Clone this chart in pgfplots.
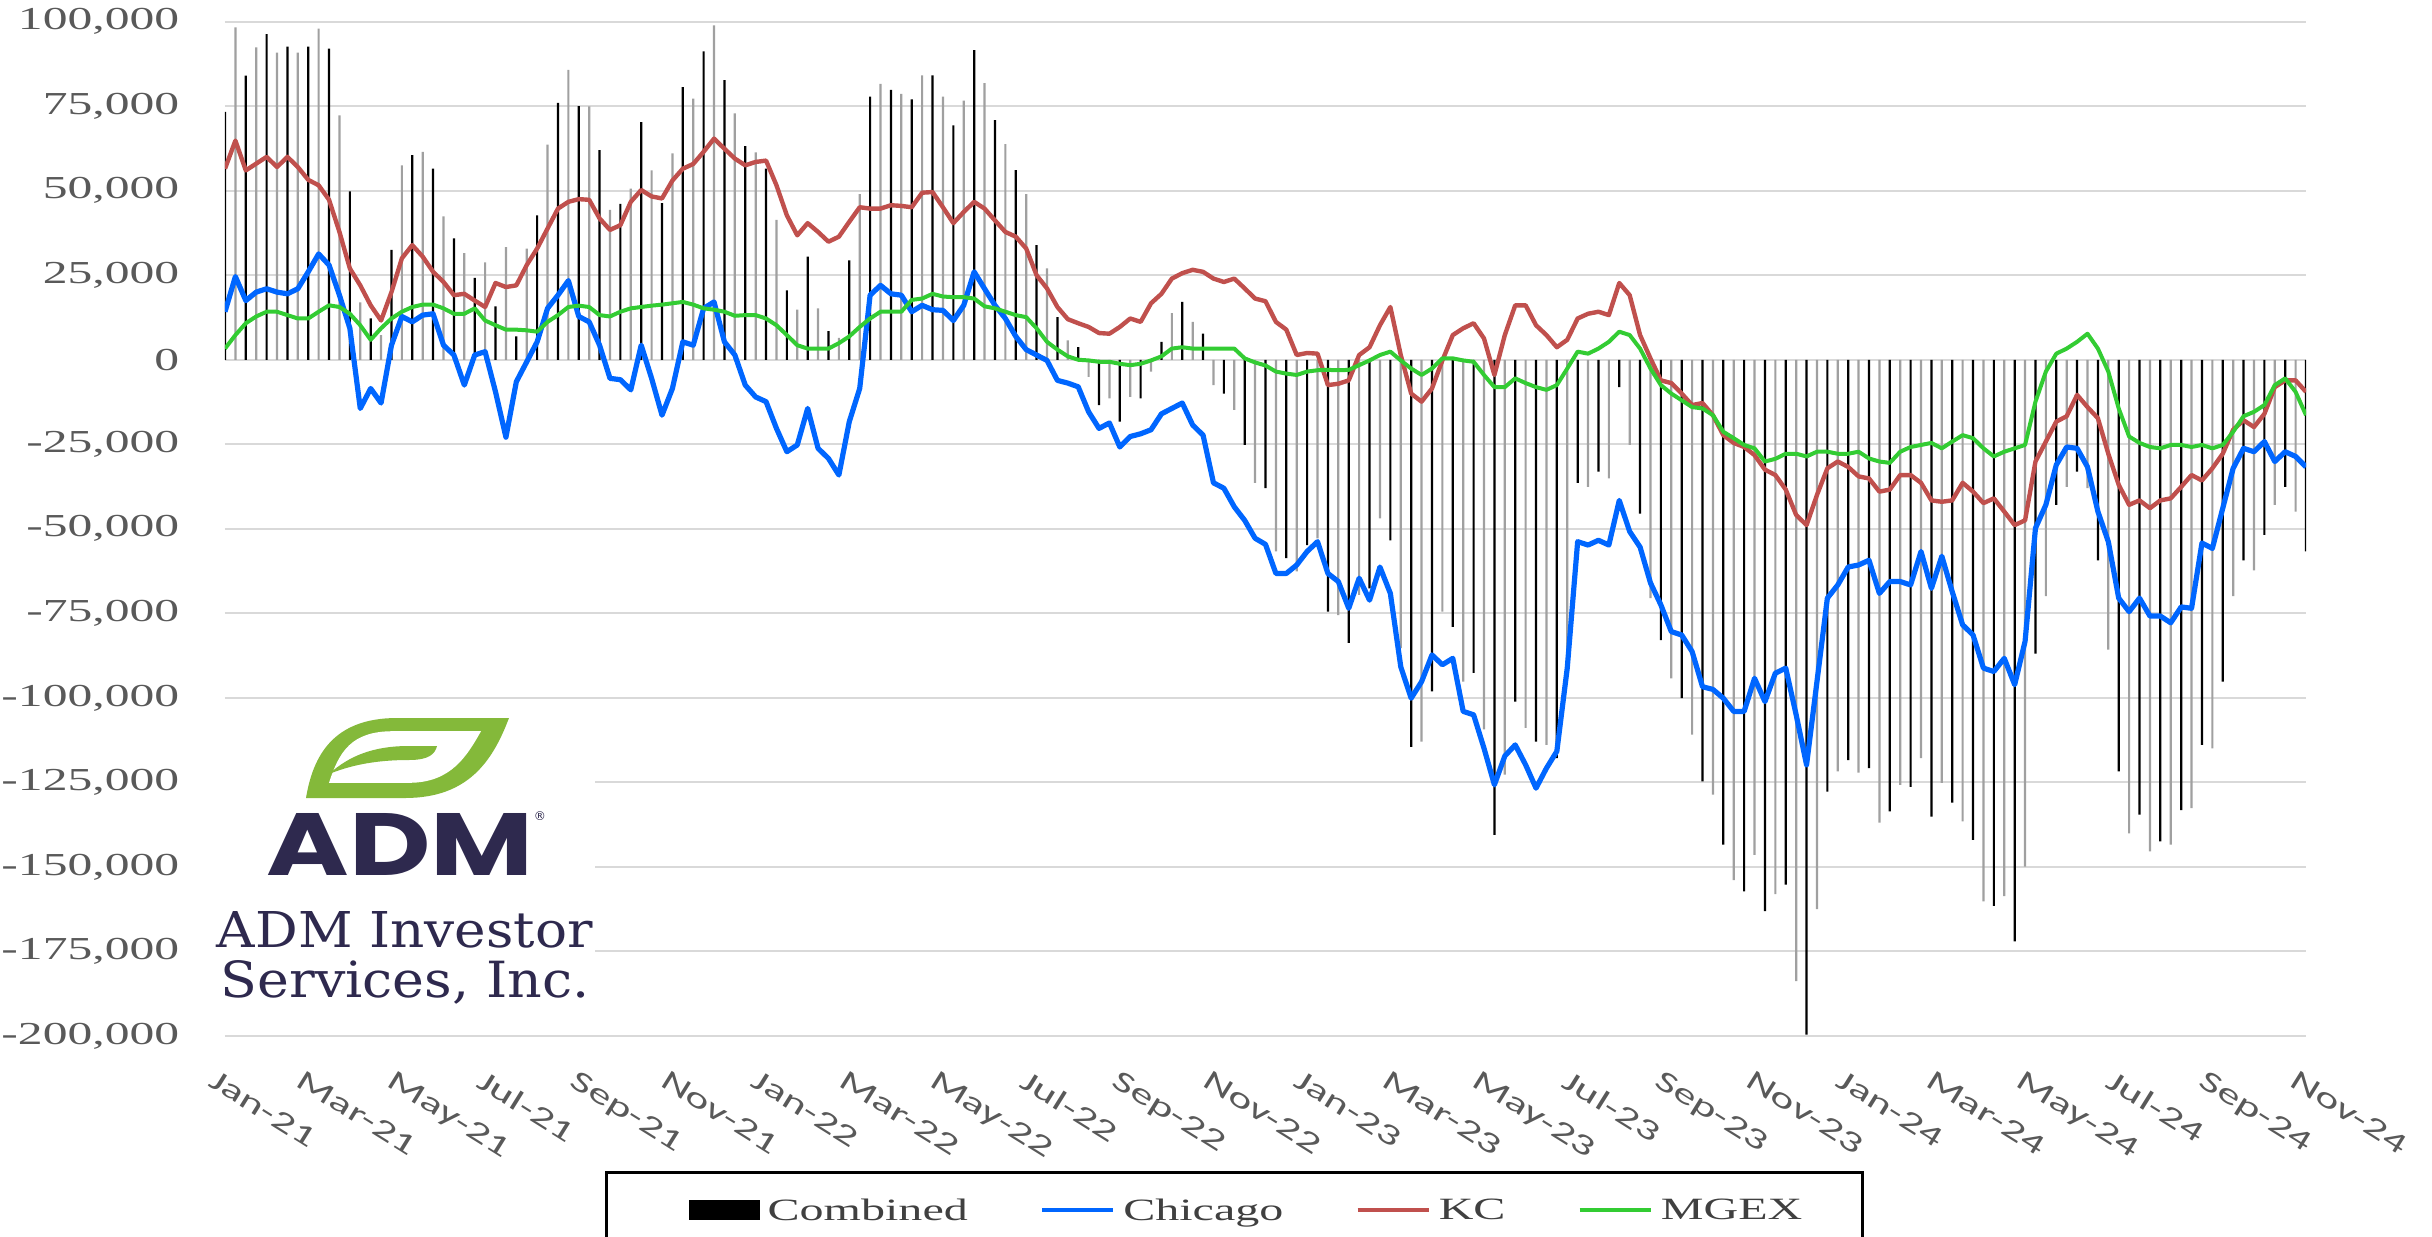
\documentclass[border=0pt]{standalone}
\usepackage{fontspec}
\setmainfont{Liberation Serif}[FakeStretch=1.55]
\newfontfamily\xfont{Carlito}[FakeStretch=1.55]
\newfontfamily\admsans{Poppins}
\newfontfamily\admserif{DejaVu Serif}
\newfontfamily\symfont{DejaVu Sans}
\usepackage{graphicx}
\usepackage{pgfplots}
\pgfplotsset{compat=1.18}
\usepackage{pgfplotstable}
\definecolor{chi}{RGB}{0,102,255}
\definecolor{kcc}{RGB}{192,80,77}
\definecolor{mgx}{RGB}{51,204,51}
\definecolor{gridc}{RGB}{217,217,217}
\definecolor{tickc}{RGB}{89,89,89}
\definecolor{legc}{RGB}{64,64,64}
\definecolor{bargray}{RGB}{160,160,160}
\definecolor{admgreen}{RGB}{132,185,58}
\definecolor{admnavy}{RGB}{46,41,78}
\pgfplotstableread{
w c h k g
0 73300 14200 56500 3300
1 98300 24600 64800 7300
2 84000 17500 56000 10800
3 92400 20000 58000 12800
4 96300 21000 60000 14200
5 90800 20000 57000 14200
6 92600 19500 60000 13200
7 90800 21000 57000 12200
8 92600 26000 53200 12200
9 97900 31300 51600 14200
10 92000 28000 47300 16100
11 72300 19100 37800 15600
12 49800 9300 27000 13600
13 17000 -14400 22000 10200
14 12200 -8500 16100 5900
15 7300 -12800 11600 9300
16 32500 4300 20000 12200
17 57500 12800 30000 14200
18 60500 11200 33900 15600
19 61500 13200 30500 16300
20 56500 13600 26000 16300
21 42400 4300 23000 15200
22 35900 1400 19100 13600
23 31500 -7500 19500 13600
24 24200 1400 17500 15200
25 28800 2400 15600 11600
26 15800 -9500 22700 10200
27 33300 -22900 21500 8900
28 6900 -6500 22000 8900
29 32900 -600 28000 8700
30 42700 5300 32900 8300
31 63600 15200 38800 11200
32 76000 19100 44700 13200
33 85700 23400 46700 15600
34 75000 12800 47500 16000
35 74900 11200 47300 15600
36 62000 4300 41800 13200
37 44300 -5500 38400 12800
38 46100 -5900 39800 14200
39 50600 -8900 46700 15200
40 70300 4300 50200 15600
41 56000 -5500 48300 16000
42 46300 -16400 47700 16300
43 61000 -8500 53000 16700
44 80600 5300 56500 17100
45 77200 4300 57900 16300
46 91200 15200 61500 15200
47 98900 17100 65400 14800
48 82700 5300 62400 14200
49 72900 1400 59500 13000
50 63200 -7500 57500 13200
51 61300 -11000 58500 13200
52 56500 -12400 58900 12200
53 41400 -20300 51600 10200
54 20500 -27200 42700 7300
55 14800 -25200 36800 4300
56 30500 -14400 40400 3300
57 15200 -26200 37800 3300
58 8500 -29200 34900 3300
59 6500 -34100 36400 4900
60 29400 -18300 40800 6900
61 49000 -8500 45100 9700
62 77800 19100 44700 12200
63 81600 22000 44700 14200
64 79800 19500 45700 14200
65 78600 19100 45500 14200
66 77000 14200 45100 17700
67 84100 16100 49400 18100
68 84100 14800 49600 19500
69 77800 14600 45100 18700
70 69300 11600 40400 18500
71 76600 16100 43700 18500
72 91600 26000 46700 18100
73 81800 21000 44700 15800
74 70900 16100 41200 15200
75 63800 12200 37800 14200
76 56100 6900 36400 13200
77 49000 3000 32900 12600
78 33900 1400 25000 9300
79 27000 -200 21100 5300
80 12600 -6100 15600 3000
81 5700 -6900 12000 1000
82 3700 -8000 10800 0
83 -5100 -15400 9700 -200
84 -13400 -20300 7900 -600
85 -11400 -18700 7700 -600
86 -18300 -25800 9700 -1200
87 -11000 -22700 12200 -1600
88 -11400 -21900 11200 -1200
89 -3500 -20700 16700 -200
90 5300 -16000 19500 1000
91 13800 -14400 24000 3300
92 17100 -12800 25600 3700
93 11200 -19300 26600 3300
94 7700 -22300 26000 3300
95 -7500 -36400 24000 3300
96 -10000 -38000 23000 3300
97 -14800 -43500 24000 3300
98 -25200 -47500 21100 400
99 -36400 -52800 18100 -800
100 -38000 -54600 17300 -1700
101 -56700 -63200 11200 -3500
102 -58700 -63200 8900 -4100
103 -62600 -60700 1400 -4500
104 -54800 -56700 2000 -3500
105 -52800 -53800 1800 -3100
106 -74500 -63200 -7500 -3000
107 -75500 -65600 -7100 -3100
108 -83700 -73500 -6100 -3000
109 -69500 -64600 1400 -1600
110 -67600 -71100 3700 -200
111 -46900 -61300 10200 1400
112 -53400 -69100 15600 2400
113 -85300 -90800 1400 -200
114 -114500 -100100 -10000 -2600
115 -112900 -95200 -12400 -4500
116 -98100 -87300 -8500 -2600
117 -74500 -90200 -200 400
118 -79000 -88300 7300 400
119 -95200 -104000 9300 -200
120 -92600 -105000 10800 -600
121 -109300 -114900 6300 -4500
122 -140500 -125700 -4500 -8100
123 -122700 -117200 7300 -8100
124 -101100 -113900 16100 -5500
125 -108900 -119800 16100 -6900
126 -112900 -126700 10200 -8100
127 -113900 -120800 7300 -8900
128 -117800 -115800 3700 -7500
129 -93200 -91200 5900 -2600
130 -36400 -53800 12200 2400
131 -37600 -54800 13600 1800
132 -33100 -53400 14200 3300
133 -35100 -54800 13200 5300
134 -8100 -41600 22700 8300
135 -25200 -50800 19100 7300
136 -45500 -55400 7300 3300
137 -70500 -66000 400 -2600
138 -82900 -72500 -6100 -7500
139 -94200 -80400 -6900 -10000
140 -100100 -81400 -10000 -12000
141 -110900 -86300 -13400 -14000
142 -124700 -96700 -12800 -14400
143 -128600 -97500 -16400 -16400
144 -143400 -100100 -22300 -21300
145 -153900 -104000 -24600 -23200
146 -157200 -104000 -25800 -25200
147 -146400 -94200 -28200 -26200
148 -163100 -101100 -32500 -30100
149 -158000 -92700 -34100 -29300
150 -155200 -91200 -38400 -27800
151 -183800 -105000 -45900 -27800
152 -199600 -119800 -48900 -28600
153 -162500 -95200 -40000 -27200
154 -127700 -70500 -32100 -27200
155 -121700 -66600 -30100 -27800
156 -118400 -61300 -31700 -27800
157 -122100 -60700 -34500 -27200
158 -120800 -59300 -35100 -29200
159 -136900 -69100 -39000 -30100
160 -133600 -65600 -38400 -30500
161 -125700 -65600 -34100 -27200
162 -126300 -66600 -34100 -25800
163 -117800 -56700 -36400 -25200
164 -135100 -67600 -41600 -24600
165 -125100 -58100 -42000 -26200
166 -131000 -68600 -41600 -24200
167 -136500 -78400 -36400 -22300
168 -142000 -81400 -39000 -23200
169 -160200 -91200 -42400 -26200
170 -161500 -92200 -41000 -28600
171 -158600 -88300 -44900 -27200
172 -172000 -96100 -48900 -26200
173 -149900 -83300 -47500 -25200
174 -86900 -49800 -30100 -12400
175 -69900 -42900 -24200 -3500
176 -42900 -31100 -18300 1800
177 -37600 -25800 -16700 3300
178 -33100 -26200 -10400 5300
179 -38000 -31700 -14000 7700
180 -59300 -44900 -17300 3300
181 -85700 -53800 -27800 -3500
182 -121700 -70500 -37000 -14400
183 -140100 -74500 -42900 -22700
184 -134500 -70500 -41600 -24600
185 -145400 -75800 -43900 -25800
186 -142400 -75800 -41600 -26200
187 -143400 -77800 -41000 -25200
188 -133200 -73100 -37600 -25200
189 -132600 -73500 -34100 -25800
190 -113900 -54200 -35700 -25200
191 -114900 -55800 -32100 -26200
192 -95200 -43900 -27800 -25200
193 -69900 -32100 -20700 -21300
194 -59300 -26200 -17900 -16700
195 -62300 -27200 -19900 -15400
196 -51800 -24200 -16000 -13400
197 -42900 -30100 -8100 -7500
198 -37600 -27200 -6100 -5500
199 -44900 -28600 -6100 -9500
200 -56700 -31700 -9500 -16400
}\data
\begin{document}
\begin{tikzpicture}
\path[use as bounding box] (-56.25pt,-50pt) rectangle (551.75pt,259pt);
\begin{axis}[
  name=ax, at={(0pt,0pt)}, anchor=south west,
  scale only axis, width=520.25pt, height=253.6pt,
  xmin=0, xmax=200, ymin=-200000, ymax=100000,
  axis line style={draw=none}, tick style={draw=none},
  ymajorgrids, grid style={draw=gridc, line width=0.5pt},
  ytick={-200000,-175000,...,100000},
  scaled y ticks=false,
  /pgf/number format/assume math mode=true,
  /pgf/number format/fixed,
  /pgf/number format/1000 sep={,},
  yticklabel style={font=\fontsize{8pt}{9pt}\selectfont, text=tickc, inner sep=0pt, anchor=east, xshift=-11.25pt},
  xtick={0,8.4286,17.1429,25.8571,34.7143,43.4286,52.1429,60.5714,69.2857,78,86.8571,95.5714,104.2857,112.7143,121.4286,130.1429,139,147.7143,156.4286,165,173.7143,182.4286,191.2857,200},
  xticklabels={Jan-21,Mar-21,May-21,Jul-21,Sep-21,Nov-21,Jan-22,Mar-22,May-22,Jul-22,Sep-22,Nov-22,Jan-23,Mar-23,May-23,Jul-23,Sep-23,Nov-23,Jan-24,Mar-24,May-24,Jul-24,Sep-24,Nov-24},
  xticklabel style={font=\xfont\fontsize{7.3pt}{8pt}\selectfont, text=tickc, inner sep=0pt, xshift=-2pt, yshift=-8pt, rotate=-32, anchor=north west},
  legend columns=4,
  legend cell align=left,
  legend style={at={(0.485,0)}, anchor=north, yshift=-33.75pt, draw=black, line width=0.75pt,
    font=\fontsize{7.75pt}{9pt}\selectfont, text=legc, inner xsep=13pt, inner ysep=4.5pt,
    /tikz/every even column/.append style={column sep=16pt}},
]
\addplot[ybar, bar width=0.55pt, bar shift=0pt, draw=none, fill=black, forget plot,
  x filter/.code={\ifodd\coordindex\def\pgfmathresult{}\fi}] table[x=w, y=c] {\data};
\addplot[ybar, bar width=0.55pt, bar shift=0pt, draw=none, fill=bargray, forget plot,
  x filter/.code={\ifodd\coordindex\else\def\pgfmathresult{}\fi}] table[x=w, y=c] {\data};
\addplot[chi, line width=1.3pt, line join=round, forget plot] table[x=w, y=h] {\data};
\addplot[kcc, line width=1.1pt, line join=round, forget plot] table[x=w, y=k] {\data};
\addplot[mgx, line width=1.0pt, line join=round, forget plot] table[x=w, y=g] {\data};
\addlegendimage{legend image code/.code={\path[draw=none, fill=none] (-8pt,-1.6pt) rectangle (0pt,2.6pt); \fill[black] (0pt,-1.6pt) rectangle (17pt,2.6pt);}}
\addlegendentry{Combined}
\addlegendimage{legend image code/.code={\draw[chi, line width=1.1pt] (0pt,0.5pt) -- (17.75pt,0.5pt);}}
\addlegendentry{Chicago}
\addlegendimage{legend image code/.code={\draw[kcc, line width=1.1pt] (0pt,0.5pt) -- (17.75pt,0.5pt);}}
\addlegendentry{KC}
\addlegendimage{legend image code/.code={\draw[mgx, line width=1.1pt] (0pt,0.5pt) -- (17.75pt,0.5pt);}}
\addlegendentry{MGEX}
\end{axis}
% logo
\fill[white] (-3.25pt,7.75pt) rectangle (92.5pt,81.5pt);
\fill[admgreen] (20.25pt,59.5pt) .. controls (22pt,70pt) and (27pt,79.5pt) .. (43pt,79.5pt) -- (71pt,79.5pt)
   .. controls (67pt,69pt) and (61pt,59.5pt) .. (45pt,59.5pt) -- cycle;
\fill[white] (26pt,63.3pt) .. controls (28.5pt,71pt) and (31.5pt,76.2pt) .. (42pt,76.2pt) -- (64pt,76.2pt)
   .. controls (60.5pt,70pt) and (56.5pt,63.3pt) .. (46pt,63.3pt) -- cycle;
\fill[admgreen] (26pt,65.5pt) .. controls (31pt,70pt) and (37pt,72.5pt) .. (46pt,72.5pt) -- (53pt,72.5pt)
   .. controls (52.5pt,70.5pt) and (51pt,69pt) .. (46pt,69pt) .. controls (37pt,69pt) and (31pt,67.5pt) .. (26pt,65.5pt) -- cycle;
\node[anchor=base west, inner sep=0pt, text=admnavy] at (10.25pt,40.25pt) {\resizebox{66.75pt}{15.5pt}{\admsans\bfseries ADM}};
\node[anchor=center, inner sep=0pt, text=admnavy] at (78.75pt,55pt) {\resizebox{!}{2.2pt}{\symfont ®}};
\node[anchor=base west, inner sep=0pt, text=admnavy] at (-2.25pt,22.25pt) {\resizebox{94pt}{9pt}{\admserif ADM Investor}};
\node[anchor=base west, inner sep=0pt, text=admnavy] at (-1.25pt,9.75pt) {\resizebox{92.25pt}{9.25pt}{\admserif Services, Inc.}};
\end{tikzpicture}
\end{document}
